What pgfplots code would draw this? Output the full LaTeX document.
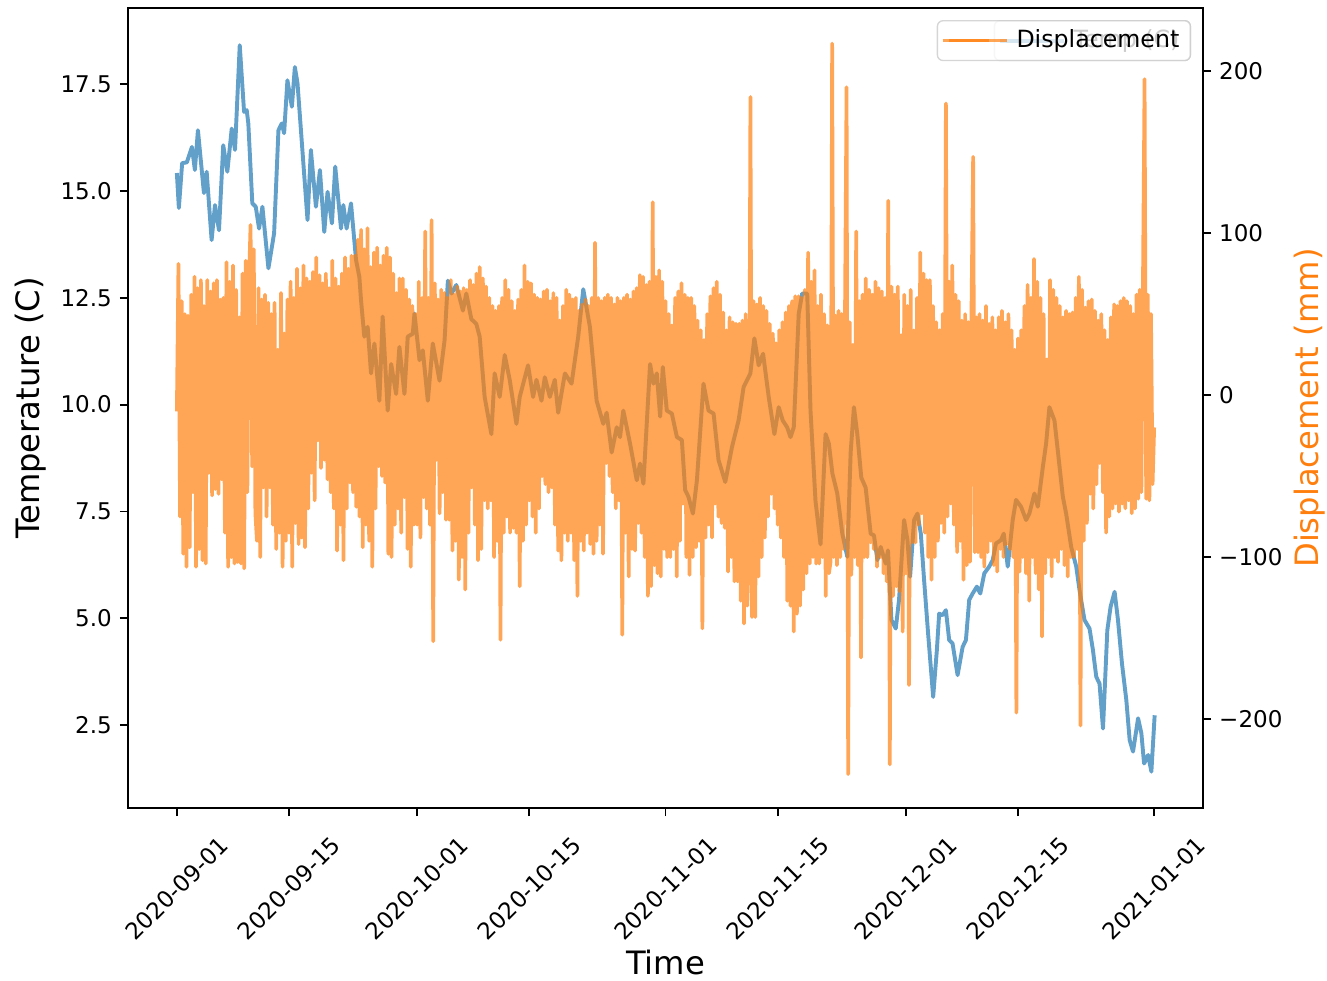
\documentclass[border=0pt]{standalone}
\usepackage{fontspec}
\setmainfont{DejaVu Sans}
\usepackage{pgfplots}
\pgfplotsset{compat=1.18}

\definecolor{mplblue}{HTML}{1F77B4}
\definecolor{mplorange}{HTML}{FF7F0E}

% shared frame for the two overlaid axes (temperature left, displacement right)
\pgfplotsset{
  twinbase/.style={
    scale only axis, width=467.4pt, height=347.8pt,
    xmin=-6.1, xmax=128.1,
    at={(0,0)}, anchor=south west,
    tick align=outside, major tick length=3.5pt,
    tick style={black, line width=0.8pt},
    axis line style={black, line width=0.8pt},
    tick label style={font=\fontsize{10}{12}\selectfont},
    label style={font=\fontsize{14}{17}\selectfont},
    legend style={at={(1,1)}, anchor=north east, xshift=-5.2pt, yshift=-5.2pt,
      draw=black!20, line width=0.6pt, rounded corners=2.5pt,
      fill=white, fill opacity=0.8, draw opacity=0.8, text opacity=1,
      font=\fontsize{10.3}{12}\selectfont, inner xsep=1.5pt, inner ysep=0.5pt,
      nodes={inner xsep=3.3pt, inner ysep=3.5pt},
      cells={anchor=west}},
    legend image code/.code={\draw[##1, opacity=0.7] (2.8pt,0pt) -- (20.2pt,0pt); \path (0pt,0pt) -- (28pt,0pt);},
  },
}

\begin{document}
\begin{tikzpicture}

% ---------- temperature (left axis) ----------
\begin{axis}[twinbase, name=ax1,
  ymin=0.56, ymax=19.28,
  xtick={0,14,30,44,61,75,91,105,122},
  xticklabels={2020-09-01,2020-09-15,2020-10-01,2020-10-15,2020-11-01,2020-11-15,2020-12-01,2020-12-15,2021-01-01},
  xtick pos=bottom, ytick pos=left,
  ytick={2.5,5,7.5,10,12.5,15,17.5},
  yticklabels={2.5,5.0,7.5,10.0,12.5,15.0,17.5},
  xticklabel style={rotate=45, anchor=center},
  xticklabel shift=31.5pt,
  xlabel={Time}, ylabel={Temperature (C)},
  xlabel style={at={([yshift=-72.6pt]axis description cs:0.5,0)}, anchor=base},
  ylabel style={at={([xshift=-42.2pt]axis description cs:0,0.5)}, anchor=center},
]
\addplot[mplblue, line width=1.7pt, opacity=0.7, line join=round] table[row sep=\\] {
x y\\
0 15.42\\ 0.25 14.6\\ 0.66 15.65\\ 1.25 15.67\\ 1.88 16.03\\ 2.25 15.49\\ 2.63 16.42\\ 3.38 14.95\\ 3.72 15.45\\ 4.34 13.85\\
4.76 14.67\\ 5.26 14.08\\ 5.79 16.07\\ 6.30 15.45\\ 6.85 16.46\\ 7.26 15.96\\ 7.85 18.41\\ 8.39 16.85\\ 8.72 16.89\\ 8.92 16.58\\
9.42 14.71\\ 9.85 14.63\\ 10.26 14.12\\ 10.68 14.63\\ 11.43 13.19\\ 12.14 14.01\\ 12.68 16.42\\ 13.10 16.58\\ 13.39 16.35\\ 13.80 17.59\\
14.36 16.97\\ 14.73 17.90\\ 15.06 17.52\\ 16.31 14.32\\ 16.73 15.96\\ 17.36 14.63\\ 17.86 15.49\\ 18.40 14.04\\ 18.81 14.98\\ 19.36 14.24\\
19.77 15.57\\ 20.49 14.12\\ 20.78 14.67\\ 21.19 14.12\\ 21.74 14.71\\ 22.37 13.38\\ 22.78 12.99\\ 22.99 12.44\\ 23.40 11.59\\ 23.82 11.82\\
24.24 10.73\\ 24.66 11.43\\ 25.28 10.09\\ 25.69 12.06\\ 26.32 9.86\\ 26.75 10.95\\ 27.37 10.25\\ 27.78 11.35\\ 28.41 10.25\\ 28.82 11.59\\
29.45 11.66\\ 29.66 12.13\\ 30.29 11.04\\ 30.70 11.27\\ 31.33 10.09\\ 31.95 11.43\\ 32.79 10.56\\ 33.42 11.51\\ 33.83 12.9\\ 34.29 12.6\\
34.88 12.8\\ 35.71 12.2\\ 36.13 12.6\\ 36.76 12.0\\ 37.38 11.89\\ 37.80 11.59\\ 38.42 10.18\\ 39.26 9.31\\ 39.67 10.73\\ 40.30 10.18\\
40.93 11.16\\ 41.55 10.58\\ 42.39 9.55\\ 42.80 10.18\\ 43.84 10.92\\ 44.47 10.18\\ 44.89 10.58\\ 45.52 10.09\\ 45.93 10.64\\ 46.56 10.18\\
47.18 10.58\\ 47.60 9.81\\ 48.44 10.73\\ 49.27 10.49\\ 50.10 11.59\\ 50.73 12.7\\ 51.56 11.82\\ 52.40 10.09\\ 53.23 9.55\\ 53.65 9.81\\
54.28 8.88\\ 54.91 9.47\\ 55.32 9.24\\ 55.73 9.86\\ 56.57 9.09\\ 57.41 8.23\\ 57.82 8.62\\ 58.24 8.15\\ 59.07 10.95\\ 59.49 10.49\\
59.91 10.73\\ 60.33 9.72\\ 60.66 10.88\\ 61.16 9.86\\ 61.79 9.79\\ 62.42 9.24\\ 63.04 9.17\\ 63.45 8.0\\ 63.87 7.84\\ 64.42 7.45\\
64.92 8.23\\ 65.74 10.49\\ 66.37 9.86\\ 67.00 9.79\\ 67.62 8.70\\ 68.46 8.19\\ 69.30 9.01\\ 70.12 9.63\\ 70.75 10.41\\ 71.59 10.73\\
72.09 11.55\\ 72.63 10.92\\ 73.18 11.19\\ 73.88 10.18\\ 74.59 9.31\\ 75.13 9.94\\ 75.63 9.63\\ 76.18 9.47\\ 76.60 9.24\\ 77.01 9.47\\
77.63 12.13\\ 78.06 12.6\\ 78.69 12.6\\ 79.10 9.86\\ 79.72 7.75\\ 80.35 6.73\\ 80.98 9.31\\ 81.39 9.09\\ 81.83 8.39\\ 82.44 7.92\\
83.07 6.98\\ 83.69 6.44\\ 84.11 8.88\\ 84.52 9.94\\ 84.94 9.31\\ 85.44 8.29\\ 85.98 8.06\\ 86.61 6.98\\ 87.02 6.94\\ 87.45 6.36\\
87.86 6.67\\ 88.49 6.28\\ 88.77 6.59\\ 89.20 4.96\\ 89.74 4.76\\ 90.15 5.43\\ 90.78 7.30\\ 91.20 6.83\\ 91.53 5.97\\ 92.03 7.30\\
92.45 7.45\\ 92.87 6.98\\ 93.28 5.89\\ 93.78 4.64\\ 94.41 3.16\\ 94.87 4.25\\ 95.16 5.11\\ 95.58 5.07\\ 96.00 5.19\\ 96.41 4.49\\
96.83 4.41\\ 97.46 3.67\\ 98.09 4.33\\ 98.50 4.49\\ 98.91 5.43\\ 99.34 5.58\\ 99.87 5.74\\ 100.29 5.58\\ 100.79 6.05\\ 101.41 6.21\\
101.84 6.36\\ 102.25 6.75\\ 102.88 6.83\\ 103.22 6.98\\ 103.72 6.21\\ 104.34 7.30\\ 104.76 7.77\\ 105.38 7.61\\ 106.01 7.30\\ 106.42 7.45\\
107.05 7.92\\ 107.47 7.61\\ 108.10 8.54\\ 108.51 9.09\\ 108.92 9.94\\ 109.55 9.63\\ 109.97 8.92\\ 110.60 7.84\\ 111.01 7.45\\ 111.64 6.67\\
112.27 6.21\\ 112.68 5.66\\ 113.30 4.96\\ 113.93 4.76\\ 114.36 4.25\\ 114.77 3.63\\ 115.18 3.47\\ 115.61 2.42\\ 116.15 4.72\\ 116.56 5.27\\
117.06 5.62\\ 117.48 4.96\\ 117.98 3.94\\ 118.52 3.09\\ 118.94 2.15\\ 119.36 1.88\\ 119.99 2.66\\ 120.40 2.31\\ 120.74 1.60\\ 121.24 1.80\\
121.65 1.41\\ 122.06 2.73\\
};
\addlegendentry{Temp (C)}
\end{axis}

% ---------- displacement (right axis), samples every 0.2 day ----------
\begin{axis}[twinbase,
  ymin=-254.9, ymax=238.9,
  axis x line=none, axis y line*=right,
  ytick={-200,-100,0,100,200},
  yticklabels={−200,−100,0,100,200},
  ylabel={Displacement (mm)},
  ylabel style={at={([xshift=46.5pt]axis description cs:1,0.5)}, anchor=center, color=mplorange},
]
\addplot[mplorange, line width=1.6pt, opacity=0.7, line join=round]
  table[row sep=\\, x expr=\coordindex*0.2, y=d] {
d\\
-10\\ 81\\ -75\\ 58\\ -98\\ 50\\ -106\\ 49\\ -94\\ 62\\
-60\\ 73\\ -106\\ 66\\ -95\\ 71\\ -102\\ 55\\ -104\\ 71\\
-48\\ 64\\ -62\\ 69\\ -58\\ 71\\ -61\\ 59\\ -52\\ 60\\
-85\\ 82\\ -106\\ 70\\ -100\\ 80\\ -104\\ 65\\ -103\\ 48\\
-104\\ 75\\ -107\\ 83\\ -60\\ 70\\ 105\\ -44\\ 90\\ -73\\
-90\\ 66\\ -100\\ 59\\ -57\\ 62\\ -75\\ 57\\ -57\\ 50\\
-80\\ 57\\ -95\\ 28\\ -85\\ 63\\ -106\\ 38\\ -90\\ 59\\
-85\\ 70\\ -106\\ 60\\ -79\\ 78\\ -92\\ 66\\ -88\\ 80\\
-94\\ 72\\ -70\\ 70\\ -48\\ 76\\ -65\\ 85\\ -28\\ 74\\
-45\\ 69\\ -40\\ 75\\ -52\\ 66\\ -60\\ 83\\ -70\\ 72\\
-96\\ 67\\ -80\\ 75\\ -102\\ 85\\ -70\\ 78\\ -54\\ 86\\
-60\\ 86\\ -69\\ 96\\ -75\\ 102\\ -94\\ 90\\ -80\\ 103\\
-90\\ 79\\ -106\\ 88\\ -70\\ 91\\ -44\\ 80\\ -50\\ 86\\
-54\\ 91\\ -98\\ 85\\ -100\\ 75\\ -80\\ 63\\ -70\\ 72\\
-85\\ 72\\ -63\\ 65\\ -95\\ 59\\ -106\\ 55\\ -80\\ 50\\
-80\\ 70\\ -88\\ 60\\ -63\\ 101\\ -70\\ 60\\ -80\\ 108\\
-152\\ 69\\ -40\\ 59\\ -73\\ 65\\ -60\\ 63\\ -77\\ 60\\
-77\\ 71\\ -96\\ 62\\ -90\\ 67\\ -114\\ 64\\ -100\\ 66\\
-120\\ 65\\ -85\\ 71\\ -57\\ 68\\ -80\\ 75\\ -102\\ 79\\
-95\\ 72\\ -65\\ 67\\ -70\\ 60\\ -65\\ 55\\ -100\\ 52\\
-90\\ 55\\ -151\\ 60\\ -85\\ 71\\ -75\\ 65\\ -85\\ 58\\
-82\\ 52\\ -85\\ 59\\ -118\\ 65\\ -90\\ 80\\ -80\\ 70\\
-65\\ 69\\ -75\\ 62\\ -85\\ 60\\ -70\\ 59\\ -50\\ 64\\
-55\\ 65\\ -60\\ 58\\ -57\\ 63\\ -80\\ 60\\ -96\\ 46\\
-102\\ 55\\ -85\\ 65\\ -90\\ 62\\ -85\\ 59\\ -102\\ 60\\
-124\\ 52\\ -90\\ 56\\ -96\\ 59\\ -85\\ 55\\ -92\\ 60\\
-98\\ 94\\ -90\\ 60\\ -80\\ 58\\ -98\\ 60\\ -42\\ 62\\
-50\\ 60\\ -60\\ 56\\ -70\\ 60\\ -65\\ 58\\ -148\\ 60\\
-85\\ 62\\ -112\\ 59\\ -95\\ 64\\ -96\\ 66\\ -79\\ 74\\
-85\\ 73\\ -100\\ 68\\ -124\\ 70\\ -118\\ 119\\ -105\\ 73\\
-110\\ 77\\ -112\\ 70\\ -95\\ 58\\ -100\\ 50\\ -100\\ 43\\
-95\\ 60\\ -112\\ 64\\ -90\\ 69\\ -67\\ 62\\ -100\\ 60\\
-111\\ 60\\ -100\\ 55\\ -94\\ 46\\ -90\\ 40\\ -144\\ 34\\
-88\\ 50\\ -80\\ 61\\ -88\\ 66\\ -67\\ 70\\ -75\\ 62\\
-79\\ 51\\ -82\\ 40\\ -109\\ 48\\ -100\\ 45\\ -115\\ 44\\
-115\\ 44\\ -127\\ 46\\ -141\\ 50\\ -130\\ -100\\ 184\\ -137\\
58\\ -137\\ 56\\ -112\\ 60\\ -100\\ 55\\ -88\\ 52\\ -75\\
44\\ -61\\ 38\\ -70\\ 32\\ -80\\ 40\\ -88\\ 45\\ -100\\
51\\ -127\\ 55\\ -130\\ 58\\ -146\\ 61\\ -135\\ 61\\ -130\\
60\\ -120\\ 65\\ -110\\ 88\\ -104\\ 70\\ -100\\ 77\\ -104\\
55\\ -104\\ 62\\ -100\\ 50\\ -124\\ 43\\ -110\\ -103\\ 217\\
-100\\ 49\\ -105\\ 52\\ -100\\ 50\\ -95\\ 48\\ 190\\ -234\\
45\\ -111\\ 31\\ -100\\ 101\\ -105\\ 58\\ -162\\ 62\\ -100\\
72\\ -100\\ 65\\ -91\\ 62\\ -95\\ 70\\ -106\\ 66\\ -100\\
64\\ -110\\ 60\\ -115\\ 120\\ -228\\ 67\\ -124\\ 62\\ -118\\
67\\ -121\\ 37\\ -146\\ 62\\ -110\\ 55\\ -179\\ 65\\ -91\\
40\\ -91\\ 60\\ -80\\ 88\\ -73\\ 75\\ -85\\ 71\\ -100\\
71\\ -114\\ 55\\ -100\\ 45\\ -90\\ 40\\ -79\\ 50\\ -85\\
180\\ -75\\ 70\\ -67\\ 80\\ -80\\ 62\\ -97\\ 58\\ -90\\
46\\ -114\\ 50\\ -105\\ 45\\ -103\\ 55\\ 147\\ -97\\ 48\\
-97\\ 50\\ -100\\ 46\\ -106\\ 55\\ -97\\ 44\\ -90\\ 48\\
-105\\ 40\\ -109\\ 48\\ -95\\ 52\\ -100\\ 45\\ -92\\ 50\\
-95\\ 40\\ -100\\ 28\\ -196\\ 35\\ -109\\ 40\\ -100\\ 55\\
-110\\ 68\\ -127\\ 60\\ -100\\ 84\\ -110\\ 70\\ -120\\ 60\\
-149\\ 50\\ -110\\ 22\\ -100\\ 71\\ -112\\ 65\\ -100\\ 60\\
-103\\ 55\\ -95\\ 48\\ -105\\ 52\\ -112\\ 50\\ -100\\ 51\\
-100\\ 60\\ -95\\ 73\\ -204\\ 65\\ -90\\ 54\\ -79\\ 58\\
-61\\ 59\\ -70\\ 52\\ -55\\ 46\\ -42\\ 50\\ -60\\ 40\\
-85\\ 34\\ -75\\ 48\\ -70\\ 56\\ -67\\ 55\\ -72\\ 58\\
-67\\ 60\\ -70\\ 58\\ -65\\ 55\\ -73\\ 50\\ -70\\ 62\\
-64\\ 65\\ -60\\ 70\\ 195\\ -64\\ 62\\ -65\\ 50\\ -55\\
-20\\
};
\addlegendentry{Displacement}
\end{axis}

\pgfresetboundingbox
\path[use as bounding box] ([shift={(-55.65pt,-74.8pt)}]ax1.south west) rectangle ([shift={(53.9pt,3.5pt)}]ax1.north east);
\end{tikzpicture}
\end{document}
